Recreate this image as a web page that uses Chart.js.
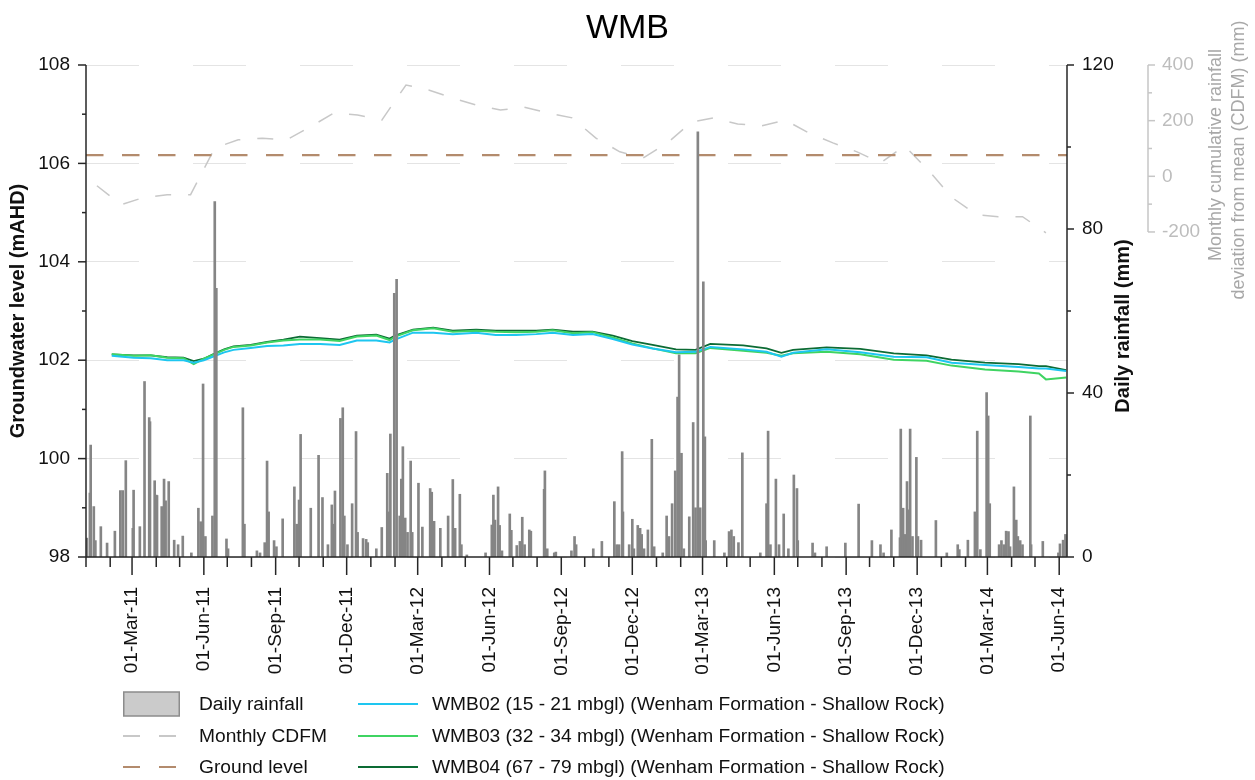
<!DOCTYPE html>
<html lang="en">
<head>
<meta charset="UTF-8">
<title>WMB</title>
<script src="https://cdn.jsdelivr.net/npm/chart.js"></script>
<style>
  body { margin: 0; background: #fff; font-family: "Liberation Sans", Arial, sans-serif; }
  #wrap { position: relative; width: 1255px; height: 780px; }
  .item { position: absolute; display: flex; align-items: center; height: 26px; font-size: 19.2px; color: #111; white-space: nowrap; }
  .item svg { flex: none; }
</style>
</head>
<body>
<div id="wrap">
  <canvas id="wmbChart" width="1255" height="780"></canvas>
  <div id="legend"></div>
</div>
<script>
// x values are days since 1 Jan 2011
const X_MAX = 1257;

// daily rainfall (only the days with rain)
const rainDay = [1,5,6,10,12,19,27,37,44,47,51,60,61,69,75,81,82,88,90,91,97,100,102,106,113,118,124,135,144,147,150,153,162,165,167,180,182,201,203,219,223,229,232,234,241,244,252,
  267,270,273,275,288,298,303,310,315,317,319,326,329,331,335,341,346,348,355,359,361,372,379,386,388,390,395,398,402,404,406,409,412,416,418,426,431,441,443,446,454,464,470,473,479,481,488,
  512,520,522,524,528,530,533,543,545,552,556,559,562,568,570,587,588,591,600,602,622,626,628,650,661,677,680,683,687,688,696,700,702,707,710,712,715,720,725,728,739,744,747,751,755,758,760,763,766,773,778,781,784,787,791,793,794,805,818,824,827,830,836,841,864,872,874,877,884,888,894,900,907,911,912,931,934,949,973,990,
  1007,1018,1022,1032,1043,1044,1047,1049,1052,1053,1056,1059,1064,1066,1070,1089,1103,1117,1119,1130,1139,1142,1146,1154,1156,1158,1170,1173,1176,1179,1182,1184,1189,1192,1194,1197,1200,1210,1211,1226,1246,1248,1252,1255];
const rainMm = [4.6,15.6,27.3,12.3,4,7.4,3.4,6.3,16.2,16.2,23.5,7,16.3,7.4,42.8,34,33,18.6,15.1,15,12.3,19,13.7,18.4,4.1,3,5.1,1,11.9,8.6,42.2,5,10,86.7,65.5,4.4,2,36.4,8,1.5,1,3.5,23.4,11,4,2.5,9.3,
  17.1,8,13.9,29.9,11.9,24.8,14.5,3,12.7,8,16.1,33.8,36.4,10,3,13,30.6,6,4.5,4.3,3.5,2,7.2,20.4,11,30,64.3,67.7,10,19,26.9,9.5,6,23.4,6,18,7.3,16.7,15.8,8.7,7,10,18.9,7,15.3,3,0.5,
  1,7.8,15.1,9,17.1,7.7,1.5,10.5,6.5,2.8,3.8,9.7,3,6.6,6.3,16.5,21,2,1,1.2,1.5,5,3,2,3.8,13.5,3,3,25.7,11,3,9.2,2,7.7,7,5.5,2,6.6,28.7,2.5,1,10,5,13,21,39,49.3,25.3,2,9.8,32.8,12,103.7,12,67.1,29.3,4,4,1,6.2,6.6,5,3.5,25.4,1,13,30.7,3,19,3,10.5,2,20,16.7,4,3.4,1,2.5,3.4,12.9,
  4,3,1,6.6,4.7,31.2,11.9,5.5,18.4,11.5,31.2,5,24.3,5,4.1,8.9,1,3,1.8,4.1,11,30.7,1.8,40.1,34.4,13,3,4,3,6.3,6.2,2.5,17.1,9,5,4,3,34.4,3,3.8,1,3.2,4.1,5.5];

// monthly CDFM (mm), plotted mid-month
const cdfmMonth = ['2011-01','2011-02','2011-03','2011-04','2011-05','2011-06','2011-07','2011-08','2011-09','2011-10','2011-11','2011-12',
  '2012-01','2012-02','2012-03','2012-04','2012-05','2012-06','2012-07','2012-08','2012-09','2012-10','2012-11','2012-12',
  '2013-01','2013-02','2013-03','2013-04','2013-05','2013-06','2013-07','2013-08','2013-09','2013-10','2013-11','2013-12',
  '2014-01','2014-02','2014-03','2014-04','2014-05'];
const cdfmMm = [-34,-102,-77,-66,-66,102,131,137,131,177,228,220,
  202,328,310,281,256,238,249,228,210,138,88,66,
  120,195,210,188,181,202,156,120,88,48,109,23,
  -77,-138,-145,-145,-203];

// groundwater levels (mAHD)
const gwDay = [33,61,83,104,125,138,151,164,177,189,211,232,253,274,300,325,347,372,389,396,
  419,445,470,500,525,551,577,598,624,649,675,700,726,756,781,800,842,872,891,906,
  949,992,1035,1077,1109,1152,1195,1221,1230,1256];
const wmb02 = [102.09,102.05,102.04,102.00,102.00,101.95,102.00,102.08,102.16,102.21,102.25,102.29,102.30,102.33,102.33,102.31,102.40,102.40,102.36,102.42,
  102.56,102.56,102.53,102.56,102.51,102.51,102.53,102.56,102.51,102.53,102.43,102.32,102.24,102.16,102.17,102.27,102.22,102.17,102.07,102.15,
  102.22,102.16,102.07,102.06,101.95,101.90,101.86,101.83,101.83,101.78];
const wmb03 = [102.12,102.09,102.10,102.05,102.04,101.92,102.03,102.12,102.21,102.27,102.30,102.36,102.40,102.42,102.42,102.39,102.48,102.50,102.41,102.48,
  102.61,102.65,102.58,102.60,102.58,102.57,102.58,102.61,102.55,102.57,102.46,102.34,102.24,102.14,102.14,102.25,102.19,102.15,102.09,102.14,
  102.17,102.12,102.01,101.99,101.89,101.81,101.77,101.73,101.61,101.65];
const wmb04 = [102.12,102.10,102.10,102.06,102.05,101.98,102.03,102.13,102.22,102.28,102.31,102.37,102.42,102.48,102.45,102.42,102.50,102.52,102.44,102.50,
  102.62,102.66,102.60,102.62,102.60,102.60,102.60,102.62,102.58,102.58,102.50,102.39,102.31,102.22,102.21,102.33,102.30,102.24,102.15,102.21,
  102.26,102.23,102.14,102.10,102.01,101.95,101.92,101.88,101.88,101.80];

const GROUND_LEVEL = 106.17;

const START = Date.UTC(2011, 0, 1);
const DAY = 86400000;
const MON = ['Jan','Feb','Mar','Apr','May','Jun','Jul','Aug','Sep','Oct','Nov','Dec'];
const dayOf = (y, m, d) => Math.round((Date.UTC(y, m, d) - START) / DAY);
function fmtDay(day) {
  const dt = new Date(START + day * DAY);
  return String(dt.getUTCDate()).padStart(2, '0') + '-' + MON[dt.getUTCMonth()] + '-' + String(dt.getUTCFullYear()).slice(2);
}

const monthStarts = [];
for (let y = 2011; y <= 2014; y++) {
  for (let m = 0; m < 12; m++) {
    const d = dayOf(y, m, 1);
    if (d <= X_MAX) monthStarts.push({ day: d, quarter: m % 3 === 2 });
  }
}

const pts = (xs, ys) => xs.map((x, i) => ({ x: x, y: ys[i] }));
const cdfmPts = cdfmMonth.map((s, i) => {
  const [y, m] = s.split('-').map(Number);
  return { x: dayOf(y, m - 1, 15), y: cdfmMm[i] };
});

Chart.defaults.font.family = '"Liberation Sans", Arial, sans-serif';
Chart.defaults.font.size = 19;
Chart.defaults.color = '#111';

// axis lines, major/minor tick marks and the right-hand titles
const axisDecor = {
  id: 'axisDecor',
  afterDraw(chart) {
    const { ctx, chartArea: a, scales: s } = chart;
    const seg = (x1, y1, x2, y2) => { ctx.beginPath(); ctx.moveTo(x1, y1); ctx.lineTo(x2, y2); ctx.stroke(); };
    ctx.save();
    ctx.lineWidth = 1.5;
    ctx.strokeStyle = '#262626';
    seg(a.left, a.top, a.left, a.bottom);
    seg(a.right, a.top, a.right, a.bottom);
    seg(a.left, a.bottom, a.right, a.bottom);
    for (let v = 98; v <= 108; v++) {
      const y = s.y.getPixelForValue(v);
      seg(a.left - (v % 2 ? 4 : 8), y, a.left, y);
    }
    for (let v = 0; v <= 120; v += 20) {
      const y = s.rain.getPixelForValue(v);
      seg(a.right, y, a.right + (v % 40 ? 4 : 7), y);
    }
    monthStarts.forEach(m => {
      const x = s.x.getPixelForValue(m.day);
      seg(x, a.bottom, x, a.bottom + (m.quarter ? 18 : 10));
    });
    const c = s.cdfm;
    ctx.strokeStyle = '#c6c6c6';
    seg(c.left, c.getPixelForValue(-200), c.left, c.getPixelForValue(400));
    for (let v = -200; v <= 400; v += 100) {
      const y = c.getPixelForValue(v);
      seg(c.left, y, c.left + (v % 200 ? 4 : 7), y);
    }
    const vtext = (t, x, y, font, color) => {
      ctx.save();
      ctx.translate(x, y);
      ctx.rotate(-Math.PI / 2);
      ctx.font = font;
      ctx.fillStyle = color;
      ctx.textAlign = 'center';
      ctx.textBaseline = 'middle';
      ctx.fillText(t, 0, 0);
      ctx.restore();
    };
    const fam = Chart.defaults.font.family;
    vtext('Daily rainfall (mm)', s.rain.left + 56, 326, 'bold 20px ' + fam, '#111');
    vtext('Monthly cumulative rainfall', c.left + 68, 155, '18px ' + fam, '#a8a8a8');
    vtext('deviation from mean (CDFM) (mm)', c.left + 91, 160, '18px ' + fam, '#a8a8a8');
    ctx.restore();
  }
};

const ctx = document.getElementById('wmbChart').getContext('2d');
const chart = new Chart(ctx, {
  type: 'bar',
  data: {
    datasets: [
      { type: 'bar', label: 'Daily rainfall', data: pts(rainDay, rainMm), yAxisID: 'rain',
        backgroundColor: '#858585', barThickness: 2, order: 0 },
      { type: 'line', label: 'Monthly CDFM', data: cdfmPts, yAxisID: 'cdfm',
        borderColor: '#c8c8c8', borderWidth: 1.5, borderDash: [16, 17], pointRadius: 0, order: 5 },
      { type: 'line', label: 'Ground level', data: pts([0, X_MAX], [GROUND_LEVEL, GROUND_LEVEL]), yAxisID: 'y',
        borderColor: '#b38b6d', borderWidth: 2.2, borderDash: [17.5, 18.5], pointRadius: 0, order: 4 },
      { type: 'line', label: 'WMB02 (15 - 21 mbgl) (Wenham Formation - Shallow Rock)', data: pts(gwDay, wmb02), yAxisID: 'y',
        borderColor: '#1ec6f0', borderWidth: 2, pointRadius: 0, order: 1 },
      { type: 'line', label: 'WMB03 (32 - 34 mbgl) (Wenham Formation - Shallow Rock)', data: pts(gwDay, wmb03), yAxisID: 'y',
        borderColor: '#3fd462', borderWidth: 2, pointRadius: 0, order: 2 },
      { type: 'line', label: 'WMB04 (67 - 79 mbgl) (Wenham Formation - Shallow Rock)', data: pts(gwDay, wmb04), yAxisID: 'y',
        borderColor: '#0c6b34', borderWidth: 1.8, pointRadius: 0, order: 3 }
    ]
  },
  options: {
    responsive: false,
    animation: false,
    layout: { padding: { left: 0, right: 0, top: 0, bottom: 93 } },
    plugins: {
      legend: { display: false },
      tooltip: { enabled: false },
      title: { display: true, text: 'WMB', color: '#000', font: { size: 34, weight: 'normal' }, padding: { top: 7.8, bottom: 16.4 } }
    },
    scales: {
      x: {
        type: 'linear', position: 'bottom', min: 0, max: X_MAX, offset: false,
        grid: { display: false, drawTicks: false },
        border: { display: false },
        afterBuildTicks: sc => { sc.ticks = monthStarts.filter(m => m.quarter).map(m => ({ value: m.day })); },
        afterFit: sc => { sc.height = 130; },
        ticks: { autoSkip: false, minRotation: 90, maxRotation: 90, padding: 30, callback: v => fmtDay(v) }
      },
      y: {
        position: 'left', min: 98, max: 108,
        grid: { color: '#e4e4e4', lineWidth: 1, drawTicks: false },
        border: { display: false, dash: [53, 54] },
        afterFit: sc => { sc.width = 86; },
        ticks: { stepSize: 2, padding: 16 },
        title: { display: true, text: 'Groundwater level (mAHD)', font: { size: 20, weight: 'bold' }, padding: { top: 6.5 } }
      },
      rain: {
        position: 'right', min: 0, max: 120, weight: 0,
        grid: { display: false, drawTicks: false },
        border: { display: false },
        afterFit: sc => { sc.width = 81; },
        ticks: { stepSize: 40, padding: 15 }
      },
      cdfm: {
        position: 'right', min: -1368, max: 400, weight: 1,
        grid: { display: false, drawTicks: false },
        border: { display: false },
        afterFit: sc => { sc.width = 107; },
        afterBuildTicks: sc => {
          const t = [];
          for (let v = -200; v <= 400; v += 200) t.push({ value: v });
          sc.ticks = t;
        },
        ticks: { autoSkip: false, padding: 14, color: '#bdbdbd', callback: v => String(v) }
      }
    }
  },
  plugins: [axisDecor]
});

// two-column legend under the chart, built from the datasets
const legendEl = document.getElementById('legend');
const cols = [{ left: 123, sw: 57, gap: 19 }, { left: 358, sw: 60, gap: 14 }];
chart.data.datasets.forEach((ds, i) => {
  const col = cols[Math.floor(i / 3)];
  const item = document.createElement('div');
  item.className = 'item';
  item.style.left = col.left + 'px';
  item.style.top = (691 + (i % 3) * 31.5) + 'px';
  let sw;
  if (ds.type === 'bar') {
    sw = `<svg width="${col.sw}" height="26"><rect x="0.75" y="1" width="${col.sw - 1.5}" height="24" fill="#cbcbcb" stroke="#8c8c8c" stroke-width="1.5"/></svg>`;
  } else {
    const dash = ds.borderDash ? 'stroke-dasharray="17 19"' : '';
    sw = `<svg width="${col.sw}" height="26"><line x1="0" y1="13" x2="${col.sw}" y2="13" stroke="${ds.borderColor}" stroke-width="2" ${dash}/></svg>`;
  }
  item.innerHTML = sw + `<span style="margin-left:${col.gap}px">${ds.label}</span>`;
  legendEl.appendChild(item);
});
</script>
</body>
</html>
